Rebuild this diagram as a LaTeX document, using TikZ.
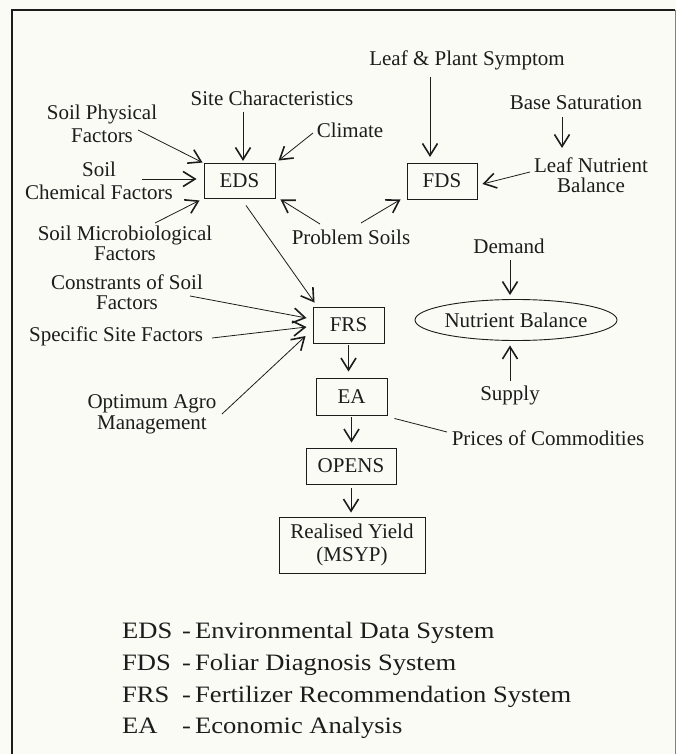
\documentclass[tikz,border=0pt]{standalone}
\usepackage{fontspec}
\setmainfont{Liberation Serif}
\newfontfamily\legfont[FakeStretch=1.13]{Liberation Serif}
\usetikzlibrary{arrows.meta,calc,shapes.geometric}
\definecolor{paper}{HTML}{FBFBF5}
\definecolor{ink}{HTML}{1C1C1C}
\tikzset{
  txt/.style={inner sep=1pt, align=center, font=\fontsize{21}{23}\selectfont, text=ink},
  box/.style={draw=ink, line width=0.9pt, inner sep=2pt, align=center, font=\fontsize{21}{23}\selectfont, text=ink},
  oval/.style={ellipse, draw=ink, line width=0.9pt, inner sep=0pt, font=\fontsize{21}{23}\selectfont, text=ink},
  arr/.style={draw=ink, line width=0.8pt, -{Straight Barb[length=12pt,width=15pt,line width=1.6pt]}},
  plain/.style={draw=ink, line width=0.8pt},
  leg/.style={anchor=base west, inner sep=0pt, font=\legfont\fontsize{23.5}{26}\selectfont, text=ink}
}
\begin{document}
\begin{tikzpicture}[x=1pt,y=-1pt]
\useasboundingbox (0,0) rectangle (676,754);
\fill[paper] (0,0) rectangle (676,754);
\draw[ink, line width=1.2pt] (12,754) -- (12,10) -- (675,10);
\draw[gray, line width=0.9pt] (675,10) -- (675,754);

% nodes
\node[txt] (lps) at (467,60) {Leaf \& Plant Symptom};
\node[txt] (site) at (272,98) {Site Characteristics};
\node[txt] (sp) at (102,124) {Soil Physical\\Factors};
\node[txt] (clim) at (350,130) {Climate};
\node[txt] (bs) at (576,103) {Base Saturation};
\node[txt, font=\fontsize{21}{20}\selectfont] (lnb) at (591,175) {Leaf Nutrient\\Balance};
\node[box, minimum width=71pt, minimum height=35pt] (eds) at (239.5,180.5) {EDS};
\node[box, minimum width=70pt, minimum height=36pt] (fds) at (442,181) {FDS};
\node[txt] (sc) at (99,181) {Soil\\Chemical Factors};
\node[txt, font=\fontsize{21}{20}\selectfont] (sm) at (125,243) {Soil Microbiological\\Factors};
\node[txt] (ps) at (351,237) {Problem Soils};
\node[txt] (dem) at (509,246) {Demand};
\node[txt, font=\fontsize{21}{20}\selectfont] (con) at (127,292) {Constrants of Soil\\Factors};
\node[txt] (ssf) at (116,336) {Specific Site Factors};
\node[txt, font=\fontsize{21}{21}\selectfont] (oam) at (152,414) {Optimum Agro\\Management};
\node[box, minimum width=71pt, minimum height=36pt] (frs) at (348.5,325) {FRS};
\node[oval, minimum width=176pt, minimum height=41pt] (nb) at (516,320) {Nutrient Balance};
\node[box, minimum width=71pt, minimum height=37pt] (ea) at (351.5,396.5) {EA};
\node[txt] (sup) at (510,395) {Supply};
\node[txt] (pc) at (548,438) {Prices of Commodities};
\node[box, minimum width=90pt, minimum height=36pt] (opens) at (351,466) {OPENS};
\node[box, minimum width=146pt, minimum height=56pt] (ry) at (352,545) {Realised Yield\\(MSYP)};

% legend
\node[leg] (l1a) at (122,638) {EDS};
\node[leg] (l1d) at (182,638) {-};
\node[leg] (l1b) at (195,638) {Environmental Data System};
\node[leg] (l2a) at (122,670) {FDS};
\node[leg] (l2d) at (182,670) {-};
\node[leg] (l2b) at (195,670) {Foliar Diagnosis System};
\node[leg] (l3a) at (122,702) {FRS};
\node[leg] (l3d) at (182,702) {-};
\node[leg] (l3b) at (195,702) {Fertilizer Recommendation System};
\node[leg] (l4a) at (122,733) {EA};
\node[leg] (l4d) at (182,733) {-};
\node[leg] (l4b) at (195,733) {Economic Analysis};

% connectors into EDS
\draw[arr] ($(sp)+(36,6)$) -- ($(eds.north west)+(-1,0)$);
\draw[arr] ($(site)+(-29,14)$) -- ($(site)+(-29,63)$);
\draw[arr] ($(clim)+(-37,3)$) -- ($(eds.north east)+(3,-2)$);
\draw[arr] ($(sc)+(43,-2)$) -- ($(eds.west)+(-7,-1.5)$);
\draw[arr] ($(sm)+(30,-20)$) -- ($(eds.south west)+(-4,2)$);
\draw[arr] ($(ps)+(-31,-13)$) -- ($(eds.south east)+(5,1)$);
% into FDS
\draw[arr] ($(ps)+(10,-14)$) -- ($(fds.south west)+(-6,0)$);
\draw[arr] ($(lps)+(-37,17)$) -- ($(lps)+(-37,97)$);
\draw[arr] ($(bs)+(-14,14)$) -- ($(bs)+(-14,45)$);
\draw[arr] ($(lnb)+(-61,-3)$) -- ($(fds.east)+(5,3)$);
% into FRS
\draw[arr] ($(eds.south)+(6.5,7)$) -- ($(frs.north west)+(2,-4)$);
\draw[arr] ($(con)+(63,4)$) -- ($(frs.west)+(-6,-7)$);
\draw[arr] ($(ssf)+(96,2)$) -- ($(frs.west)+(-6,2)$);
\draw[arr] ($(oam)+(70,0)$) -- ($(frs.west)+(-7,11)$);
% chain
\draw[arr] ($(frs.south)+(0,2)$) -- ($(frs.south |- ea.north)+(0,-6)$);
\draw[arr] ($(ea.south)+(0,2)$) -- ($(ea.south |- opens.north)+(0,-5)$);
\draw[arr] ($(opens.south)+(0,4)$) -- ($(opens.south |- ry.north)+(0,-4)$);
% nutrient balance
\draw[arr] ($(dem)+(1,14)$) -- ($(nb.north)+(-6,-4)$);
\draw[arr] ($(sup)+(0,-14)$) -- ($(nb.south)+(-6,4.5)$);
% prices
\draw[plain] ($(ea.south east)+(7,3)$) -- ($(pc)+(-101,-6)$);
\end{tikzpicture}
\end{document}
